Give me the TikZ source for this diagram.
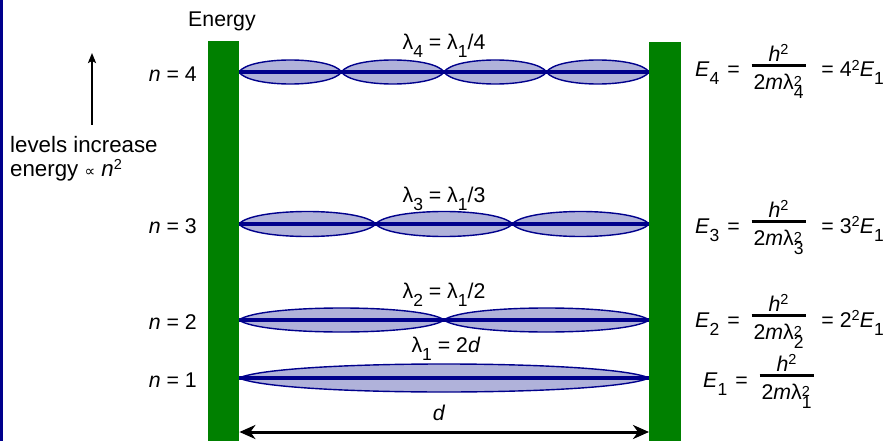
\documentclass[tikz,border=0pt]{standalone}
\usepackage{fontspec}
\setmainfont{Liberation Sans}
\newfontfamily\djv{DejaVu Sans}
\usetikzlibrary{arrows.meta}
\definecolor{navy}{RGB}{0,0,140}
\definecolor{lobefill}{RGB}{176,178,218}
\definecolor{wallgreen}{RGB}{0,128,0}
\newcommand{\upsc}[1]{\raisebox{6.5pt}{\fontsize{14.5}{14.5}\selectfont #1}}
\newcommand{\dnsc}[1]{\raisebox{-8pt}{\fontsize{17.5}{17.5}\selectfont #1}}
\newcommand{\lsub}[1]{\raisebox{-8pt}{\fontsize{17.5}{17.5}\selectfont #1}}
\newcommand{\lamsq}[1]{λ\rlap{\raisebox{3pt}{\fontsize{14.5}{14.5}\selectfont 2}}\raisebox{-9.5pt}{\fontsize{17.5}{17.5}\selectfont #1}}
\newcommand{\efr}[1]{{\setlength{\arrayrulewidth}{3pt}\renewcommand{\arraystretch}{0}%
\begin{tabular}{@{\hspace{2pt}}c@{\hspace{2pt}}}\textit{h}\upsc{2}\rule[-3pt]{0pt}{0pt}\\\hline\rule{0pt}{22pt}2\textit{m}\lamsq{#1}\end{tabular}}}
\newcommand{\lobe}[4]{%
\pgfmathsetmacro\la{#1}\pgfmathsetmacro\lb{#2}%
\pgfmathsetmacro\lc{0.1*(\lb-\la)}\pgfmathsetmacro\lk{(#4)/0.75}%
\filldraw[lobe] (\la,#3) .. controls (\la+\lc,#3-\lk) and (\lb-\lc,#3-\lk) .. (\lb,#3)
  .. controls (\lb-\lc,#3+\lk) and (\la+\lc,#3+\lk) .. (\la,#3) -- cycle;}
\tikzset{
  lbl/.style={inner sep=0pt, font=\fontsize{21.3}{25}\selectfont},
  big/.style={inner sep=0pt, font=\fontsize{22.3}{26}\selectfont},
  wall/.style={fill=wallgreen, draw=none, inner sep=0pt, minimum width=31.5pt, minimum height=402pt},
  lobe/.style={fill=lobefill, draw=navy, line width=1.4pt},
  midline/.style={draw=navy, line width=3.5pt},
  uparrow/.style={line width=2pt, -{Stealth[length=10pt,width=8pt,inset=2pt]}},
  darrow/.style={line width=3pt, {Stealth[length=16pt,width=14pt,inset=5pt]}-{Stealth[length=16pt,width=14pt,inset=5pt]}}
}
\begin{document}
\begin{tikzpicture}[x=1pt,y=-1pt]
\useasboundingbox (0,0) rectangle (886,441);
\fill[navy] (0,0) rectangle (2.5,441);
% standing waves
\foreach \n/\yy/\A in {1/378/14, 2/320/12, 3/224/12.5, 4/72/12}{
  \pgfmathsetmacro\w{410/\n}
  \foreach \k in {1,...,\n}{
    \lobe{239+(\k-1)*\w}{239+\k*\w}{\yy}{\A}
  }
  \draw[midline] (239,\yy) -- (649,\yy);
}
% walls
\node[wall, anchor=north west] (wallL) at (207.5,41) {};
\node[wall, anchor=north west] (wallR) at (649,42) {};
% labels
\node[lbl, anchor=base west] (energy) at (188,27) {Energy};
\coordinate (abot) at (92,125);
\coordinate (atop) at (92,53);
\draw[uparrow] (abot) -- (atop);
\node[big, anchor=base west] (lev1) at (10,153) {levels increase};
\node[big, anchor=base west] (lev2) at (10,176) {energy {\djv\fontsize{15}{15}\selectfont ∝} \textit{n}\upsc{2}};
\node[lbl, anchor=base east] (n4) at (197,82) {\textit{n} = 4};
\node[lbl, anchor=base east] (n3) at (197,233) {\textit{n} = 3};
\node[lbl, anchor=base east] (n2) at (197,329) {\textit{n} = 2};
\node[lbl, anchor=base east] (n1) at (197,387) {\textit{n} = 1};
\node[lbl, anchor=base] (l4) at (444,50) {λ\lsub{4} = λ\lsub{1}/4};
\node[lbl, anchor=base] (l3) at (444,202) {λ\lsub{3} = λ\lsub{1}/3};
\node[lbl, anchor=base] (l2) at (444,298) {λ\lsub{2} = λ\lsub{1}/2};
\node[lbl, anchor=base] (l1) at (446,352) {λ\lsub{1} = 2\textit{d}};
\node[lbl, anchor=base] (dl) at (439,420) {\textit{d}};
\coordinate (dy) at (0,432);
\draw[darrow] (wallL.east |- dy) -- (wallR.west |- dy);
% equations
\node[lbl, anchor=base west] (eq4) at (695,77) {\textit{E}\dnsc{4}\hspace{0.1em} =\hspace{0.55em}\efr{4}\hspace{0.75em}= 4\upsc{2}\textit{E}\dnsc{1}};
\node[lbl, anchor=base west] (eq3) at (695,233) {\textit{E}\dnsc{3}\hspace{0.1em} =\hspace{0.55em}\efr{3}\hspace{0.75em}= 3\upsc{2}\textit{E}\dnsc{1}};
\node[lbl, anchor=base west] (eq2) at (695,327) {\textit{E}\dnsc{2}\hspace{0.1em} =\hspace{0.55em}\efr{2}\hspace{0.75em}= 2\upsc{2}\textit{E}\dnsc{1}};
\node[lbl, anchor=base west] (eq1) at (703,387) {\textit{E}\dnsc{1}\hspace{0.1em} =\hspace{0.55em}\efr{1}};
\end{tikzpicture}
\end{document}
